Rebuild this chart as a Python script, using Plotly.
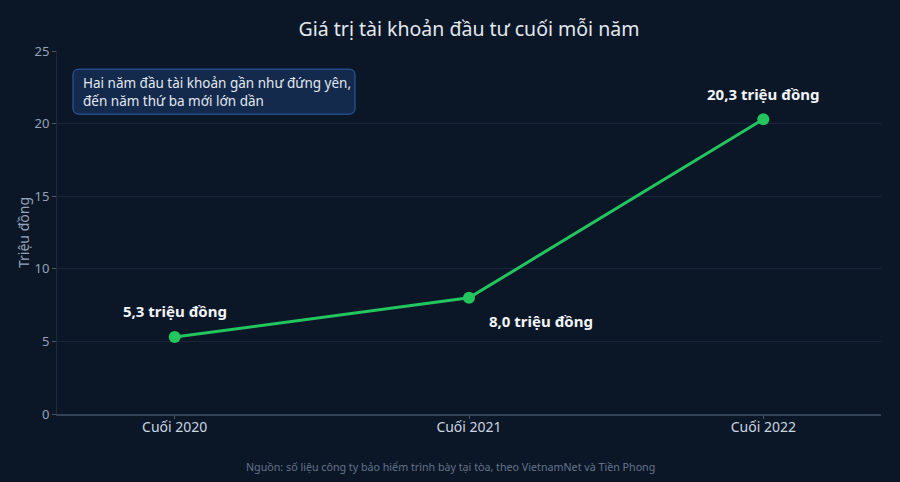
import plotly.graph_objects as go

FONT = 'Noto Sans'

categories = ['Cuối 2020', 'Cuối 2021', 'Cuối 2022']
values = [5.3, 8.0, 20.3]
value_labels = ['5,3 triệu đồng', '8,0 triệu đồng', '20,3 triệu đồng']
y_ticks = [0, 5, 10, 15, 20, 25]

BG = '#0b1727'
GREEN = '#22c55e'

fig = go.Figure()
fig.add_trace(go.Scatter(
    x=categories, y=values,
    mode='lines+markers',
    line=dict(color=GREEN, width=3),
    marker=dict(color=GREEN, size=12),
    hoverinfo='skip',
    showlegend=False,
))

# value labels, placed like the original
shifts = [dict(xshift=0, yshift=26, xanchor='center'),
          dict(xshift=18, yshift=-23, xanchor='left'),
          dict(xshift=0, yshift=25, xanchor='center')]
for cat, val, lab, s in zip(categories, values, value_labels, shifts):
    fig.add_annotation(x=cat, y=val, xref='x', yref='y', text=f'<b>{lab}</b>',
                       showarrow=False, font=dict(family=FONT, size=15, color='#f1f5f9'),
                       yanchor='middle', **s)


def rounded_box(x0, y0, x1, y1, rx, ry):
    return (f'M {x0 + rx},{y0} L {x1 - rx},{y0} Q {x1},{y0} {x1},{y0 + ry} '
            f'L {x1},{y1 - ry} Q {x1},{y1} {x1 - rx},{y1} '
            f'L {x0 + rx},{y1} Q {x0},{y1} {x0},{y1 - ry} '
            f'L {x0},{y0 + ry} Q {x0},{y0} {x0 + rx},{y0} Z')


# note box (rounded corners)
fig.add_shape(type='path', xref='paper', yref='paper',
              path=rounded_box(0.0194, 0.826, 0.3617, 0.950, 0.0075, 0.017),
              fillcolor='#132a4c', line=dict(color='#2f62b5', width=1), layer='above')
fig.add_annotation(
    xref='paper', yref='paper', x=0.0194, y=0.888, xanchor='left', yanchor='middle',
    xshift=8,
    text='Hai năm đầu tài khoản gần như đứng yên,<br>đến năm thứ ba mới lớn dần',
    showarrow=False, align='left',
    font=dict(family=FONT, size=13.5, color='#e2e8f0'),
)

# source, centred on the page
fig.add_annotation(
    xref='paper', yref='paper', x=0.477, y=-0.146, xanchor='center', yanchor='middle',
    text='Nguồn: số liệu công ty bảo hiểm trình bày tại tòa, theo VietnamNet và Tiền Phong',
    showarrow=False, font=dict(family=FONT, size=10.7, color='#64748b'),
)

fig.update_layout(
    width=900, height=482,
    paper_bgcolor=BG, plot_bgcolor=BG,
    margin=dict(l=57, r=19, t=51, b=68),
    font=dict(family=FONT, color='#94a3b8'),
    title=dict(text='Giá trị tài khoản đầu tư cuối mỗi năm', xref='paper', x=0.5,
               xanchor='center', y=0.94, yanchor='middle',
               font=dict(family=FONT, size=19.5, color='#e2e8f0')),
    xaxis=dict(range=[-0.4, 2.4], showgrid=False, showline=True, linecolor='#334155',
               linewidth=1.5, ticks='outside', tickcolor='#475569', ticklen=3,
               ticklabelstandoff=-4,
               tickfont=dict(family=FONT, size=14, color='#cbd5e1'), zeroline=False),
    yaxis=dict(range=[0, 25], tickvals=y_ticks, gridcolor='#1a2738', showline=True,
               linecolor='#1e293b', ticks='outside', tickcolor='#475569', ticklen=4,
               tickfont=dict(family=FONT, size=13, color='#94a3b8'), zeroline=False,
               title=dict(text='Triệu đồng', font=dict(family=FONT, size=14, color='#94a3b8'),
                          standoff=1)),
)

fig.write_html('out.html', config={'displayModeBar': False},
               post_script="document.body.style.margin='0';")
